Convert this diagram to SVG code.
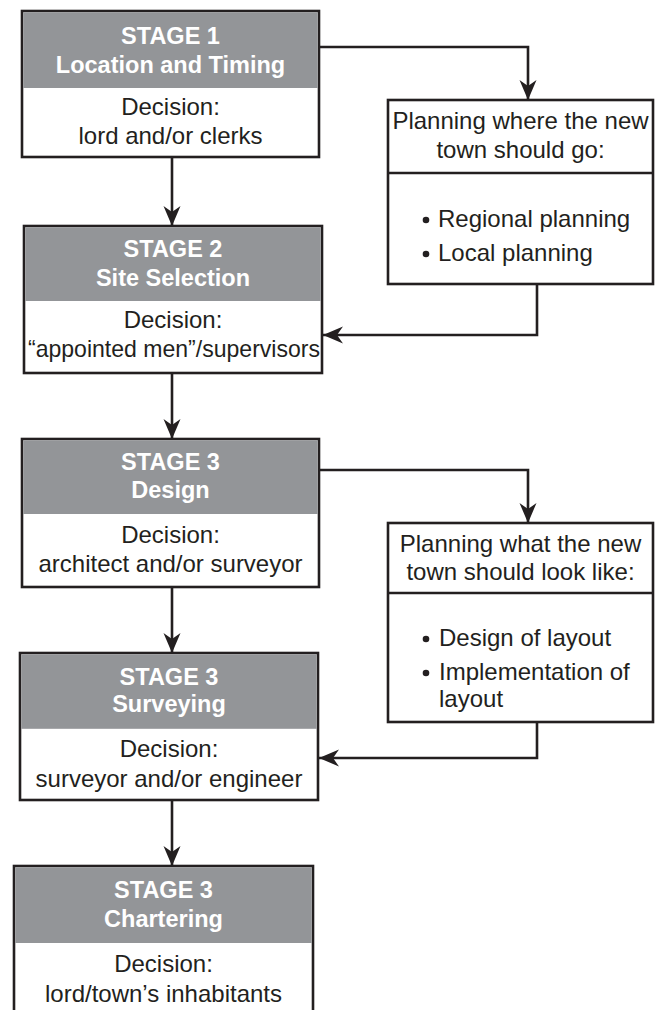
<svg xmlns="http://www.w3.org/2000/svg" width="656" height="1010" viewBox="0 0 656 1010">
<defs>
<style>
.box{fill:#ffffff;stroke:#231f20;stroke-width:2.6}
.hdr{fill:#939598}
.ht{font-family:"Liberation Sans",Arial,Helvetica,sans-serif;font-size:23.5px;font-weight:bold;fill:#ffffff;text-anchor:middle}
.bt{font-family:"Liberation Sans",Arial,Helvetica,sans-serif;font-size:24px;fill:#231f20;text-anchor:middle}
.lt{font-family:"Liberation Sans",Arial,Helvetica,sans-serif;font-size:24px;fill:#231f20}
.ln{fill:none;stroke:#231f20;stroke-width:2.6;marker-end:url(#ah)}
.dv{stroke:#231f20;stroke-width:2.6}
.dot{fill:#231f20}
</style>
<marker id="ah" markerUnits="userSpaceOnUse" markerWidth="24" markerHeight="20" viewBox="-21 -10 22 20" refX="0" refY="0" orient="auto">
<path d="M0,0 L-20,-8.5 L-14,0 L-20,8.5 Z" fill="#231f20"/>
</marker>
</defs>
<rect width="656" height="1010" fill="#ffffff"/>

<g id="connectors">
<path class="ln" d="M172,157 V226"/>
<path class="ln" d="M172,373 V439"/>
<path class="ln" d="M172,587 V653"/>
<path class="ln" d="M172,800 V866"/>
<path class="ln" d="M319,47 H528 V100"/>
<path class="ln" d="M537,284 V335 H323"/>
<path class="ln" d="M319,470 H528 V523"/>
<path class="ln" d="M537,722 V758 H319"/>
</g>

<g id="stage1">
<rect class="box" x="22" y="11" width="297" height="146"/>
<rect class="hdr" x="23.3" y="12.3" width="294.4" height="75.7"/>
<text class="ht" x="170.5" y="44">STAGE 1</text>
<text class="ht" x="170.5" y="73">Location and Timing</text>
<text class="bt" x="170.5" y="115">Decision:</text>
<text class="bt" x="170.5" y="144">lord and/or clerks</text>
</g>

<g id="stage2">
<rect class="box" x="24" y="226" width="298" height="147"/>
<rect class="hdr" x="25.3" y="227.3" width="295.4" height="73.7"/>
<text class="ht" x="173" y="257">STAGE 2</text>
<text class="ht" x="173" y="286">Site Selection</text>
<text class="bt" x="173" y="328">Decision:</text>
<text class="bt" x="174" y="357" textLength="292" lengthAdjust="spacingAndGlyphs">“appointed men”/supervisors</text>
</g>

<g id="stage3-design">
<rect class="box" x="22" y="439" width="297" height="148"/>
<rect class="hdr" x="23.3" y="440.3" width="294.4" height="73.7"/>
<text class="ht" x="170.5" y="470">STAGE 3</text>
<text class="ht" x="170.5" y="498">Design</text>
<text class="bt" x="170.5" y="543">Decision:</text>
<text class="bt" x="170.5" y="572">architect and/or surveyor</text>
</g>

<g id="stage3-surveying">
<rect class="box" x="20" y="653" width="298" height="147"/>
<rect class="hdr" x="21.3" y="654.3" width="295.4" height="74.5"/>
<text class="ht" x="169" y="685">STAGE 3</text>
<text class="ht" x="169" y="712">Surveying</text>
<text class="bt" x="169" y="757">Decision:</text>
<text class="bt" x="169" y="787">surveyor and/or engineer</text>
</g>

<g id="stage3-chartering">
<rect class="box" x="14" y="866" width="299" height="160"/>
<rect class="hdr" x="15.3" y="867.3" width="296.4" height="75.7"/>
<text class="ht" x="163.5" y="898">STAGE 3</text>
<text class="ht" x="163.5" y="927">Chartering</text>
<text class="bt" x="163.5" y="972">Decision:</text>
<text class="bt" x="163.5" y="1002">lord/town’s inhabitants</text>
</g>

<g id="planning-where">
<rect class="box" x="388" y="100" width="265" height="184"/>
<line class="dv" x1="388" y1="173" x2="653" y2="173"/>
<text class="bt" x="520.5" y="129">Planning where the new</text>
<text class="bt" x="520.5" y="158">town should go:</text>
<circle class="dot" cx="426" cy="220" r="3.3"/>
<text class="lt" x="438" y="227">Regional planning</text>
<circle class="dot" cx="426" cy="254" r="3.3"/>
<text class="lt" x="438" y="261">Local planning</text>
</g>

<g id="planning-what">
<rect class="box" x="388" y="523" width="265" height="199"/>
<line class="dv" x1="388" y1="593" x2="653" y2="593"/>
<text class="bt" x="520.5" y="552">Planning what the new</text>
<text class="bt" x="520.5" y="580">town should look like:</text>
<circle class="dot" cx="426" cy="639" r="3.3"/>
<text class="lt" x="439" y="646">Design of layout</text>
<circle class="dot" cx="426" cy="673" r="3.3"/>
<text class="lt" x="439" y="680">Implementation of</text>
<text class="lt" x="439" y="707">layout</text>
</g>
</svg>
